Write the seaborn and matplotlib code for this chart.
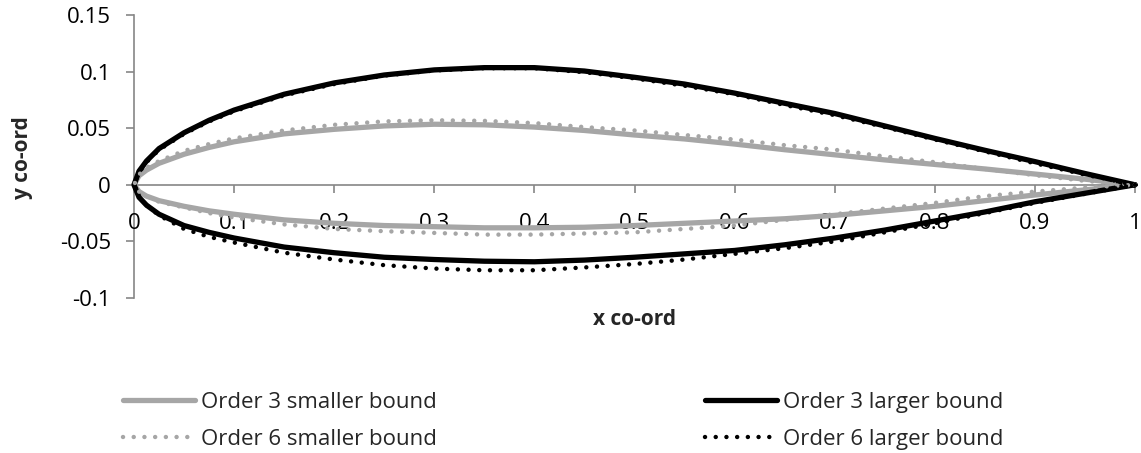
import matplotlib
matplotlib.use("Agg")
import matplotlib.pyplot as plt
import pandas as pd
import seaborn as sns

# chord stations shared by every bound
XC = [0, 0.005, 0.0125, 0.025, 0.05, 0.075, 0.1, 0.15, 0.2, 0.25, 0.3, 0.35, 0.4,
      0.45, 0.5, 0.55, 0.6, 0.65, 0.7, 0.75, 0.8, 0.85, 0.9, 0.95, 1.0]

O3_SMALL_UPPER = [0, 0.008, 0.013, 0.019, 0.027, 0.033, 0.038, 0.045, 0.049, 0.052, 0.0535, 0.053, 0.051,
                  0.048, 0.044, 0.0405, 0.036, 0.031, 0.0265, 0.022, 0.018, 0.014, 0.0095, 0.005, 0]
O3_SMALL_LOWER = [0, -0.006, -0.010, -0.014, -0.019, -0.023, -0.026, -0.031, -0.034, -0.036, -0.037, -0.038, -0.038,
                  -0.0375, -0.036, -0.034, -0.032, -0.030, -0.027, -0.023, -0.019, -0.014, -0.009, -0.0045, 0]
O3_LARGE_UPPER = [0, 0.012, 0.021, 0.032, 0.046, 0.057, 0.066, 0.080, 0.090, 0.097, 0.1015, 0.1035, 0.1035,
                  0.1005, 0.095, 0.089, 0.081, 0.072, 0.063, 0.052, 0.041, 0.0305, 0.0205, 0.010, 0]
O3_LARGE_LOWER = [0, -0.011, -0.018, -0.026, -0.036, -0.042, -0.047, -0.055, -0.060, -0.064, -0.066, -0.0675, -0.068,
                  -0.0665, -0.064, -0.061, -0.058, -0.053, -0.047, -0.040, -0.032, -0.024, -0.015, -0.0075, 0]
O6_SMALL_UPPER = [0, 0.009, 0.015, 0.021, 0.030, 0.036, 0.041, 0.048, 0.053, 0.056, 0.057, 0.0565, 0.0545,
                  0.051, 0.048, 0.044, 0.040, 0.035, 0.031, 0.025, 0.020, 0.014, 0.0085, 0.0035, 0]
O6_SMALL_LOWER = [0, -0.006, -0.010, -0.015, -0.020, -0.025, -0.029, -0.035, -0.039, -0.041, -0.0425, -0.044, -0.044,
                  -0.043, -0.042, -0.039, -0.036, -0.031, -0.026, -0.021, -0.016, -0.010, -0.006, -0.0025, 0]
O6_LARGE_UPPER = [0, 0.011, 0.020, 0.031, 0.045, 0.056, 0.065, 0.079, 0.089, 0.0965, 0.101, 0.103, 0.103,
                  0.0995, 0.094, 0.0875, 0.080, 0.0705, 0.0615, 0.051, 0.040, 0.0295, 0.019, 0.009, 0]
O6_LARGE_LOWER = [0, -0.011, -0.018, -0.027, -0.039, -0.046, -0.051, -0.060, -0.066, -0.071, -0.074, -0.0755, -0.0755,
                  -0.073, -0.070, -0.066, -0.061, -0.056, -0.050, -0.042, -0.034, -0.025, -0.016, -0.008, 0]

SERIES_NAMES = ["Order 3 smaller bound", "Order 3 larger bound",
                "Order 6 smaller bound", "Order 6 larger bound"]
X_TICKS = [0, 0.1, 0.2, 0.3, 0.4, 0.5, 0.6, 0.7, 0.8, 0.9, 1]
X_TICK_LABELS = ["0", "0.1", "0.2", "0.3", "0.4", "0.5", "0.6", "0.7", "0.8", "0.9", "1"]
Y_TICKS = [-0.1, -0.05, 0, 0.05, 0.1, 0.15]
Y_TICK_LABELS = ["-0.1", "-0.05", "0", "0.05", "0.1", "0.15"]

GREY = "#A6A6A6"
AXIS_GREY = "#868686"
DOTS = (0, (0.01, 2.4))


def closed_outline(upper, lower):
    # trailing edge -> leading edge along the top, then back along the bottom
    xs = XC[::-1] + XC[1:]
    ys = upper[::-1] + lower[1:]
    return pd.DataFrame({"x": xs, "y": ys})


def main() -> None:
    sns.set_theme(style="white")
    plt.rcParams["font.family"] = ["Open Sans", "DejaVu Sans"]
    plt.rcParams["axes.unicode_minus"] = False

    fig = plt.figure(figsize=(11.41, 4.53), dpi=100)
    ax = fig.add_axes([134 / 1141, 1 - 298 / 453, 1001 / 1141, 283 / 453])

    styles = [
        (O3_SMALL_UPPER, O3_SMALL_LOWER, GREY, "-", 3.8),
        (O3_LARGE_UPPER, O3_LARGE_LOWER, "black", "-", 3.8),
        (O6_SMALL_UPPER, O6_SMALL_LOWER, GREY, DOTS, 3.2),
        (O6_LARGE_UPPER, O6_LARGE_LOWER, "black", DOTS, 3.2),
    ]
    handles = []
    for name, (up, lo, color, ls, lw) in zip(SERIES_NAMES, styles):
        df = closed_outline(up, lo)
        sns.lineplot(data=df, x="x", y="y", sort=False, estimator=None, color=color,
                     linestyle=ls, linewidth=lw, dash_capstyle="round",
                     solid_capstyle="round", solid_joinstyle="round",
                     clip_on=False, legend=False, ax=ax)
        line = ax.lines[-1]
        line.set_label(name)
        handles.append(line)

    ax.set_xlim(0, 1)
    ax.set_ylim(-0.1, 0.15)
    ax.set_xticks(X_TICKS)
    ax.set_xticklabels(X_TICK_LABELS)
    ax.set_yticks(Y_TICKS)
    ax.set_yticklabels(Y_TICK_LABELS)

    for side in ["top", "right"]:
        ax.spines[side].set_visible(False)
    ax.spines["bottom"].set_position(("data", 0))
    for side in ["left", "bottom"]:
        ax.spines[side].set_color(AXIS_GREY)
        ax.spines[side].set_linewidth(1.2)
        ax.spines[side].set_zorder(0.5)
    ax.tick_params(axis="both", which="major", direction="out", length=5.5, width=1.2,
                   color=AXIS_GREY, labelcolor="black", labelsize=16)
    ax.tick_params(axis="x", pad=15, bottom=True)
    ax.tick_params(axis="y", pad=11, left=True)

    ax.set_xlabel("x co-ord", fontsize=15, fontweight="bold")
    ax.set_ylabel("y co-ord", fontsize=15, fontweight="bold")
    ax.xaxis.set_label_coords(0.5, -0.04)
    ax.yaxis.set_label_coords(-0.101, 0.496)

    order = [handles[0], handles[2], handles[1], handles[3]]
    fig.legend(order, [h.get_label() for h in order], loc="upper left",
               bbox_to_anchor=(123 / 1141, 1 - 392 / 453), ncol=2, frameon=False,
               fontsize=16, handlelength=3.24, handletextpad=0.25,
               columnspacing=12.1, labelspacing=0.72, borderpad=0, borderaxespad=0)

    fig.savefig("out.png", dpi=100)
    plt.close(fig)


if __name__ == "__main__":
    main()
